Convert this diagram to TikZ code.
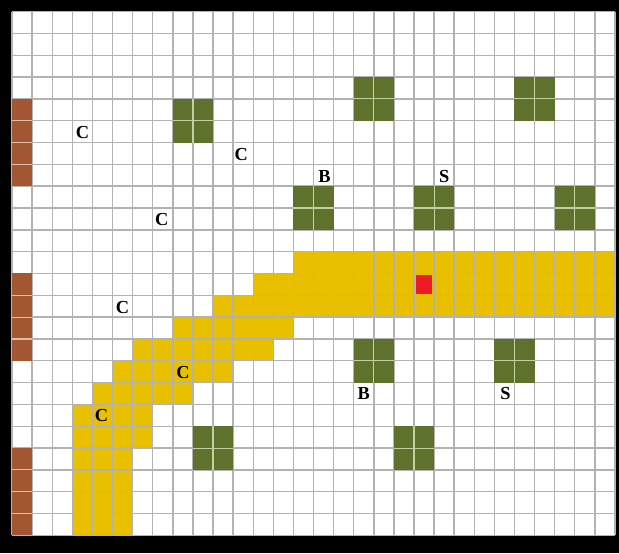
\documentclass[tikz,border=0pt]{standalone}
\usepackage{fontspec}
\setmainfont{Liberation Serif}

\definecolor{pathyellow}{RGB}{232,192,0}
\definecolor{obstgreen}{RGB}{94,114,46}
\definecolor{obstline}{RGB}{196,208,160}
\definecolor{wallbrown}{RGB}{163,86,50}
\definecolor{wallline}{RGB}{222,190,170}
\definecolor{goalred}{RGB}{237,28,36}
\definecolor{gridgray}{RGB}{178,178,178}

\tikzset{
    gridline/.style={gridgray, line width=1pt},
    lbl/.style={font=\fontsize{13}{15}\selectfont\bfseries, inner sep=0pt},
}

\begin{document}
\begin{tikzpicture}[x=0.5cm, y=-0.543cm]
    % Frame
    \useasboundingbox (-0.6,-0.53) rectangle (30.2,24.82);
    \fill[black] (-0.6,-0.53) rectangle (30.2,24.82);
    \fill[white] (0,0) rectangle (30,24);

    % Yellow corridor (row / first col / last col)
    \foreach \r/\a/\b in {11/14/29, 12/12/29, 13/10/29, 14/8/13, 15/6/12,
                          16/5/10, 17/4/8, 18/3/6, 19/3/6, 20/3/5, 21/3/5,
                          22/3/5, 23/3/5}
        \fill[pathyellow] (\a,\r) rectangle (\b+1,\r+1);

    % Grid
    \foreach \i in {0,...,30}
        \draw[gridline] (\i,0) -- (\i,24);
    \foreach \j in {0,...,24}
        \draw[gridline] (0,\j) -- (30,\j);

    % Obstacles 2x2
    \foreach \c/\r in {8/4, 17/3, 25/3, 14/8, 20/8, 27/8, 17/15, 24/15, 9/19, 19/19} {
        \fill[obstgreen] (\c,\r) rectangle (\c+2,\r+2);
        \draw[obstline, line width=0.8pt] (\c+1,\r) -- (\c+1,\r+2)
                                          (\c,\r+1) -- (\c+2,\r+1);
    }

    % Walls on the left
    \foreach \s in {4,12,20} {
        \fill[wallbrown] (0,\s) rectangle (1,\s+4);
        \foreach \k in {1,2,3}
            \draw[wallline, line width=0.8pt] (0,\s+\k) -- (1,\s+\k);
    }

    % Goal
    \fill[goalred] (20.08,12.08) rectangle (20.92,12.92);

    % Labels
    \node[lbl] (c1) at (3.5,5.55) {C};
    \node[lbl] (c2) at (11.4,6.55) {C};
    \node[lbl] (b1) at (15.55,7.55) {B};
    \node[lbl] (s1) at (21.5,7.55) {S};
    \node[lbl] (c3) at (7.45,9.55) {C};
    \node[lbl] (c4) at (5.5,13.55) {C};
    \node[lbl] (c5) at (8.5,16.55) {C};
    \node[lbl] (b2) at (17.5,17.5) {B};
    \node[lbl] (s2) at (24.55,17.5) {S};
    \node[lbl] (c6) at (4.45,18.5) {C};
\end{tikzpicture}
\end{document}
